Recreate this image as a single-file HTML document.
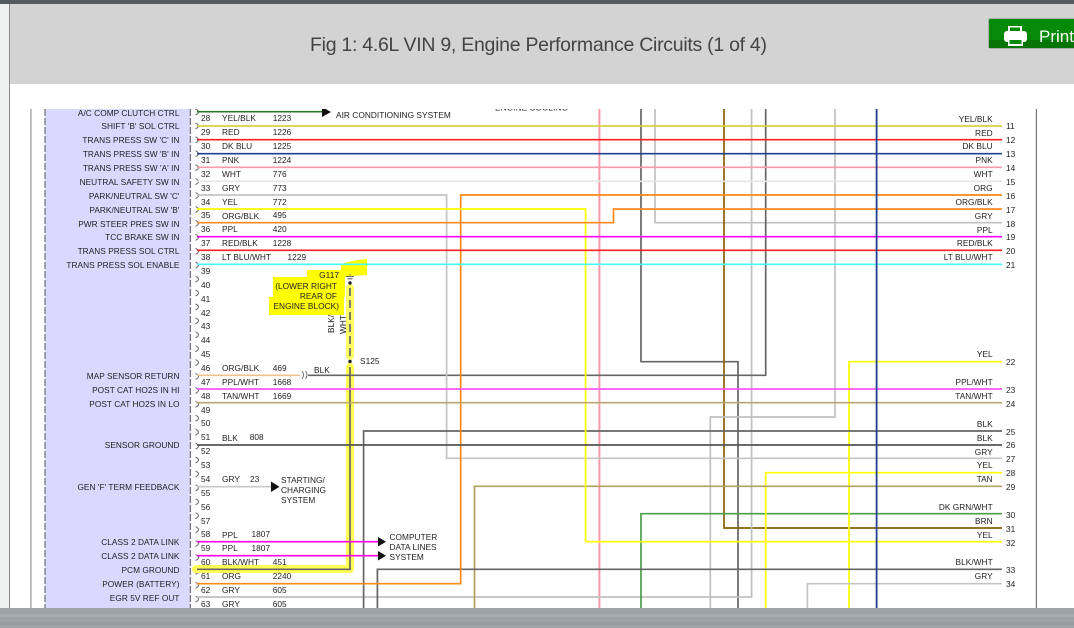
<!DOCTYPE html>
<html><head><meta charset="utf-8"><style>
html,body{margin:0;padding:0;background:#fff;width:1074px;height:628px;overflow:hidden}
svg{display:block}
.t{font-family:"Liberation Sans",sans-serif;font-size:8.3px;fill:#222;letter-spacing:.04px}
.l{text-anchor:end}
.w{fill:none;stroke-width:1.7}
</style></head><body>
<svg width="1074" height="628" viewBox="0 0 1074 628" xmlns="http://www.w3.org/2000/svg">
<rect width="1074" height="628" fill="#fff"/>
<!-- frame -->
<rect x="0" y="0" width="9.5" height="628" fill="#eef1ef"/>
<rect x="9" y="0" width="1" height="628" fill="#8a8a8a"/>
<rect x="30.2" y="109" width="1.5" height="500" fill="#aaa"/>
<rect x="1035.8" y="109" width="1.2" height="500" fill="#777"/>
<rect x="45" y="109" width="145.5" height="500" fill="#d9d9ff"/>
<path d="M45 109V608M190.4 109V608" stroke="#777" stroke-width="1.3" stroke-dasharray="7 2" fill="none"/>
<path fill="none" stroke="#666" stroke-width="1" d="M195.5 109q6 3 0 6m0 7.92q6 3 0 6m0 7.92q6 3 0 6m0 7.92q6 3 0 6m0 7.92q6 3 0 6m0 7.92q6 3 0 6m0 7.92q6 3 0 6m0 7.92q6 3 0 6m0 7.92q6 3 0 6m0 7.92q6 3 0 6m0 7.92q6 3 0 6m0 7.92q6 3 0 6m0 7.92q6 3 0 6m0 7.92q6 3 0 6m0 7.92q6 3 0 6m0 7.92q6 3 0 6m0 7.92q6 3 0 6m0 7.92q6 3 0 6m0 7.92q6 3 0 6m0 7.92q6 3 0 6m0 7.92q6 3 0 6m0 7.92q6 3 0 6m0 7.92q6 3 0 6m0 7.92q6 3 0 6m0 7.92q6 3 0 6m0 7.92q6 3 0 6m0 7.92q6 3 0 6m0 7.92q6 3 0 6m0 7.92q6 3 0 6m0 7.92q6 3 0 6m0 7.92q6 3 0 6m0 7.92q6 3 0 6m0 7.92q6 3 0 6m0 7.92q6 3 0 6m0 7.92q6 3 0 6m0 7.92q6 3 0 6"/>

<!-- highlights -->
<polygon fill="#ffff00" points="341,264 352,261 367,259 367,275 350,276 345,277 345,297 344,297 344,315 269,315 269,297 273,297 273,277 307,277 307,270 341,270"/>
<path d="M350 288V356" stroke="#ffff66" stroke-width="8" stroke-linecap="round" fill="none"/>
<path d="M350 367V569H196" stroke="#ffff55" stroke-width="8" stroke-linecap="round" stroke-linejoin="round" fill="none"/>

<!-- vertical wires -->
<g class="w">
<path d="M599.4 109V608" stroke="#f99aaa" stroke-width="2"/>
<path d="M641 109V361.7H738V608" stroke="#666"/>
<path d="M655 109V222.7H1002" stroke="#c0c0c0"/>
<path d="M724 109V528H1002" stroke="#8a6000"/>
<path d="M751.6 109V597H197" stroke="#c0c0c0"/>
<path d="M765.7 109V375.3H308" stroke="#666"/>
<path d="M835 109V417H710.3V608" stroke="#c0c0c0"/>
<path d="M197 195H446.6V458.3H1002" stroke="#c4c4c4"/>
<path d="M641 608V513.7H1002" stroke="#4aa04a"/>
<path d="M1002 361.7H849V608" stroke="#ffff00"/>
<path d="M1002 472.7H765.7V608" stroke="#ffff00"/>
<path d="M1002 583.7H807.4V608" stroke="#c4c4c4"/>
<path d="M474.5 608V486.3H1002" stroke="#b0a060"/>
<path d="M363.6 608V431H1002" stroke="#666"/>
<path d="M377.4 608V569.3H1002" stroke="#666"/>
<path d="M197 569.3H350V367" stroke="#666"/>
<path d="M350 288V358" stroke="#666" stroke-dasharray="8 4"/>

<!-- horizontal wires -->
<path d="M197 111.7H325" stroke="#2a7a2a"/>
<path d="M197 126H1002" stroke="#d8d040"/>
<path d="M197 139.7H1002" stroke="#ff2020"/>
<path d="M197 153.7H1002" stroke="#223e90"/>
<path d="M197 167.3H1002" stroke="#f99aaa"/>
<path d="M197 181.3H1002" stroke="#e6e6e6"/>
<path d="M1002 195H460.7V583.7H197" stroke="#ff8a10"/>
<path d="M197 209H585.6V541.7H1002" stroke="#ffff00"/>
<path d="M197 222.7H613.5V209H1002" stroke="#ff8a20"/>
<path d="M197 236.7H1002" stroke="#ff00ff"/>
<path d="M197 250.3H1002" stroke="#ff2020"/>
<path d="M197 264.3H1002" stroke="#44ffff"/>
<path d="M197 375.3H300" stroke="#f6c08c"/>
<path d="M197 389H1002" stroke="#ff55ff"/>
<path d="M197 402.7H1002" stroke="#b8a870"/>
<path d="M197 445H1002" stroke="#555"/>
<path d="M197 486.7H272" stroke="#c8c8c8"/>
<path d="M197 541.7H378" stroke="#ff00ee"/>
<path d="M197 555.7H378" stroke="#ff00ee"/>
<path d="M876.6 109V608" stroke="#223e90" stroke-width="1.8"/>
<path d="M302 371q3 4 0 8M305.5 371q3 4 0 8" stroke="#666" stroke-width=".9"/>
</g>

<!-- arrowheads -->
<path d="M322 107L331 112 322 117Z M271 481.5L279.500 486.700 271 492Z M378 537L386 541.700 378 546.500Z M378 551L386 555.700 378 560.500Z" fill="#111"/>

<!-- ground + splice -->
<path d="M346 276.500H354M347.500 278.800H352.500M349.500 274.500H350.500" stroke="#333" stroke-width=".8" fill="none"/>
<circle cx="350" cy="283" r="1.700" fill="#222"/>
<circle cx="350" cy="361.500" r="1.700" fill="#222"/>

<!-- left labels -->
<g class="t l">
<text x="179.500" y="116">A/C COMP CLUTCH CTRL</text>
<text x="179.500" y="129">SHIFT 'B' SOL CTRL</text>
<text x="179.500" y="143">TRANS PRESS SW 'C' IN</text>
<text x="179.500" y="157">TRANS PRESS SW 'B' IN</text>
<text x="179.500" y="171">TRANS PRESS SW 'A' IN</text>
<text x="179.500" y="185">NEUTRAL SAFETY SW IN</text>
<text x="179.500" y="199">PARK/NEUTRAL SW 'C'</text>
<text x="179.500" y="213">PARK/NEUTRAL SW 'B'</text>
<text x="179.500" y="227">PWR STEER PRES SW IN</text>
<text x="179.500" y="240">TCC BRAKE SW IN</text>
<text x="179.500" y="254">TRANS PRESS SOL CTRL</text>
<text x="179.500" y="268">TRANS PRESS SOL ENABLE</text>
<text x="179.500" y="379">MAP SENSOR RETURN</text>
<text x="179.500" y="393">POST CAT HO2S IN HI</text>
<text x="179.500" y="407">POST CAT HO2S IN LO</text>
<text x="179.500" y="448">SENSOR GROUND</text>
<text x="179.500" y="490">GEN 'F' TERM FEEDBACK</text>
<text x="179.500" y="545">CLASS 2 DATA LINK</text>
<text x="179.500" y="559">CLASS 2 DATA LINK</text>
<text x="179.500" y="573">PCM GROUND</text>
<text x="179.500" y="587">POWER (BATTERY)</text>
<text x="179.500" y="601">EGR 5V REF OUT</text>
</g>

<!-- pins -->
<g class="t">
<text x="201" y="121">28</text><text x="201" y="135">29</text><text x="201" y="149">30</text><text x="201" y="163">31</text><text x="201" y="177">32</text><text x="201" y="191">33</text><text x="201" y="205">34</text><text x="201" y="218">35</text><text x="201" y="232">36</text><text x="201" y="246">37</text><text x="201" y="260">38</text><text x="201" y="274">39</text><text x="201" y="288">40</text><text x="201" y="302">41</text><text x="201" y="316">42</text><text x="201" y="329">43</text><text x="201" y="343">44</text><text x="201" y="357">45</text><text x="201" y="371">46</text><text x="201" y="385">47</text><text x="201" y="399">48</text><text x="201" y="413">49</text><text x="201" y="426">50</text><text x="201" y="440">51</text><text x="201" y="454">52</text><text x="201" y="468">53</text><text x="201" y="482">54</text><text x="201" y="496">55</text><text x="201" y="510">56</text><text x="201" y="524">57</text><text x="201" y="537">58</text><text x="201" y="551">59</text><text x="201" y="565">60</text><text x="201" y="579">61</text><text x="201" y="593">62</text><text x="201" y="607">63</text>

<text x="222" y="121">YEL/BLK</text><text x="272.700" y="121">1223</text>
<text x="222" y="135">RED</text><text x="272.700" y="135">1226</text>
<text x="222" y="149">DK BLU</text><text x="272.700" y="149">1225</text>
<text x="222" y="163">PNK</text><text x="272.700" y="163">1224</text>
<text x="222" y="177">WHT</text><text x="272.700" y="177">776</text>
<text x="222" y="191">GRY</text><text x="272.700" y="191">773</text>
<text x="222" y="205">YEL</text><text x="272.700" y="205">772</text>
<text x="222" y="219">ORG/BLK</text><text x="272.700" y="218">495</text>
<text x="222" y="232">PPL</text><text x="272.700" y="232">420</text>
<text x="222" y="246">RED/BLK</text><text x="272.700" y="246">1228</text>
<text x="222" y="260">LT BLU/WHT</text><text x="287.500" y="260">1229</text>
<text x="222" y="371">ORG/BLK</text><text x="272.700" y="371">469</text>
<text x="222" y="385">PPL/WHT</text><text x="272.700" y="385">1668</text>
<text x="222" y="399">TAN/WHT</text><text x="272.700" y="399">1669</text>
<text x="222" y="441">BLK</text><text x="249.700" y="440">808</text>
<text x="222" y="482">GRY</text><text x="250" y="482">23</text>
<text x="222" y="538">PPL</text><text x="251.500" y="537">1807</text>
<text x="222" y="551">PPL</text><text x="251.500" y="551">1807</text>
<text x="222" y="565">BLK/WHT</text><text x="272.700" y="565">451</text>
<text x="222" y="579">ORG</text><text x="272.700" y="579">2240</text>
<text x="222" y="593">GRY</text><text x="272.700" y="593">605</text>
<text x="222" y="607">GRY</text><text x="272.700" y="607">605</text>

<text x="336" y="118">AIR CONDITIONING SYSTEM</text>
<text x="314" y="373">BLK</text>
<text x="360" y="364">S125</text>
<text x="281" y="483">STARTING/</text><text x="281" y="493">CHARGING</text><text x="281" y="503">SYSTEM</text>
<text x="389.500" y="540">COMPUTER</text><text x="389.500" y="550">DATA LINES</text><text x="389.500" y="560">SYSTEM</text>
<text x="339" y="278" text-anchor="end">G117</text>
<text x="337" y="289" text-anchor="end">(LOWER RIGHT</text>
<text x="337" y="299" text-anchor="end">REAR OF</text>
<text x="339" y="309" text-anchor="end">ENGINE BLOCK)</text>
<text transform="translate(334,333) rotate(-90)">BLK/</text>
<text transform="translate(346,334) rotate(-90)">WHT</text>
<text x="495" y="110.500">ENGINE COOLING</text>
</g>

<!-- right labels -->
<g class="t l">
<text x="992.700" y="122">YEL/BLK</text><text x="992.700" y="136">RED</text><text x="992.700" y="149">DK BLU</text><text x="992.700" y="163">PNK</text><text x="992.700" y="177">WHT</text><text x="992.700" y="191">ORG</text><text x="992.700" y="205">ORG/BLK</text><text x="992.700" y="219">GRY</text><text x="992.700" y="233">PPL</text><text x="992.700" y="246">RED/BLK</text><text x="992.700" y="260">LT BLU/WHT</text>
<text x="992.700" y="357">YEL</text><text x="992.700" y="385">PPL/WHT</text><text x="992.700" y="399">TAN/WHT</text><text x="992.700" y="427">BLK</text><text x="992.700" y="441">BLK</text><text x="992.700" y="455">GRY</text><text x="992.700" y="468">YEL</text><text x="992.700" y="482">TAN</text><text x="992.700" y="510">DK GRN/WHT</text><text x="992.700" y="524">BRN</text><text x="992.700" y="538">YEL</text><text x="992.700" y="565">BLK/WHT</text><text x="992.700" y="579">GRY</text>
</g>
<g class="t">
<text x="1006" y="129">11</text><text x="1006" y="143">12</text><text x="1006" y="157">13</text><text x="1006" y="171">14</text><text x="1006" y="185">15</text><text x="1006" y="199">16</text><text x="1006" y="213">17</text><text x="1006" y="227">18</text><text x="1006" y="240">19</text><text x="1006" y="254">20</text><text x="1006" y="268">21</text>
<text x="1006" y="365">22</text><text x="1006" y="393">23</text><text x="1006" y="407">24</text><text x="1006" y="435">25</text><text x="1006" y="448">26</text><text x="1006" y="462">27</text><text x="1006" y="476">28</text><text x="1006" y="490">29</text><text x="1006" y="518">30</text><text x="1006" y="532">31</text><text x="1006" y="546">32</text><text x="1006" y="573">33</text><text x="1006" y="587">34</text>
</g>

<!-- header -->
<rect x="0" y="84" width="1074" height="25" fill="#fff"/>
<rect x="0" y="84" width="9.500" height="25" fill="#eef1ef"/>
<rect x="9" y="84" width="1" height="25" fill="#8a8a8a"/>
<rect x="10" y="4" width="1064" height="80" fill="#d3d3d3"/>
<rect x="0" y="4" width="9.500" height="80" fill="#eef1ef"/>
<rect x="9" y="4" width="1" height="80" fill="#8a8a8a"/>
<rect x="0" y="0" width="1074" height="4" fill="#555a5c"/>
<text x="310" y="51" font-family="'Liberation Sans',sans-serif" font-size="19.5px" fill="#444" textLength="457" lengthAdjust="spacing">Fig 1: 4.6L VIN 9, Engine Performance Circuits (1 of 4)</text>

<!-- print button -->
<rect x="988.500" y="18.500" width="90" height="30" rx="2" fill="#078a07" stroke="#aaa"/>
<rect x="989" y="40" width="90" height="8" fill="#067506"/>
<g fill="#fff">
<path d="M1008 26h14v6h-14zM1010 27.500v3.500h10v-3.500z" fill-rule="evenodd"/>
<rect x="1004" y="31" width="23" height="11" rx="3"/>
<rect x="1008" y="41" width="15" height="5"/>
</g>
<rect x="1009.500" y="40" width="12" height="4" fill="#078a07"/>
<text x="1039" y="42" font-family="'Liberation Sans',sans-serif" font-size="17px" fill="#fff">Print</text>

<!-- bottom bar -->
<rect x="0" y="608" width="1074" height="20" fill="#9da4a9"/>
<rect x="0" y="614" width="1074" height="3" fill="#a4aaae"/>
<rect x="0" y="622" width="1074" height="3" fill="#979ea3"/>
</svg>
</body></html>
